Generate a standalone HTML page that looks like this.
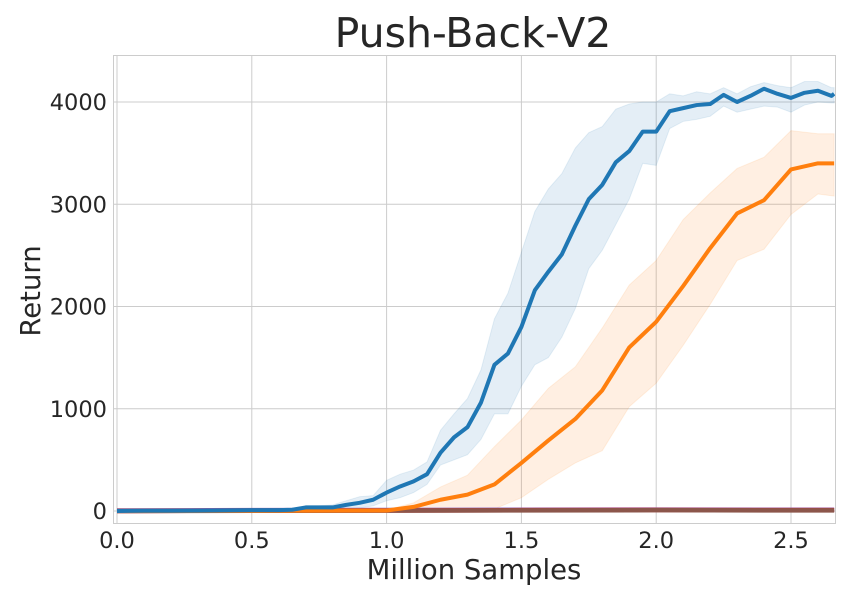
<!DOCTYPE html>
<html><head><meta charset="utf-8"><style>
html,body{margin:0;padding:0;background:#fff;}
svg{display:block;font-family:"DejaVu Sans","Liberation Sans",sans-serif;}
</style></head><body>
<svg id="chart" width="850" height="600" viewBox="0 0 850 600" xmlns="http://www.w3.org/2000/svg">
<rect width="850" height="600" fill="#fff"/>
<text x="473" y="47" font-size="41" fill="#262626" text-anchor="middle">Push-Back-V2</text>
<g id="grid"></g>
<g id="bands"></g>
<g id="lines"></g>
<rect x="113.5" y="55.5" width="722" height="468" fill="none" stroke="#ccc" stroke-width="1"/>
<g id="ticks"></g>
<text x="474" y="579" font-size="27.5" fill="#262626" text-anchor="middle">Million Samples</text>
<text transform="translate(40,291) rotate(-90)" font-size="27.5" fill="#262626" text-anchor="middle">Return</text>
</svg>
<script>
const xTicks = [0.0, 0.5, 1.0, 1.5, 2.0, 2.5];
const xTickLabels = ["0.0", "0.5", "1.0", "1.5", "2.0", "2.5"];
const yTicks = [0, 1000, 2000, 3000, 4000];
const yTickLabels = ["0", "1000", "2000", "3000", "4000"];

const blueX = [0,0.1,0.2,0.3,0.4,0.5,0.6,0.65,0.7,0.75,0.8,0.85,0.9,0.95,1.0,1.05,1.1,1.15,1.2,1.25,1.3,1.35,1.4,1.45,1.5,1.55,1.6,1.65,1.7,1.75,1.8,1.85,1.9,1.95,2.0,2.05,2.1,2.15,2.2,2.25,2.3,2.35,2.4,2.45,2.5,2.55,2.6,2.65,2.66];
const blueMean = [0,2,3,4,6,8,9,12,35,35,35,60,80,110,180,240,290,360,570,720,820,1060,1430,1540,1800,2160,2340,2510,2790,3050,3190,3410,3520,3710,3710,3910,3940,3970,3980,4070,4000,4060,4130,4080,4040,4090,4110,4060,4080];
const blueUpper = [0,4,6,8,10,12,14,20,45,50,60,100,140,150,300,360,400,480,790,950,1100,1380,1880,2130,2530,2930,3150,3300,3550,3700,3760,3930,3980,4000,4000,4080,4060,4100,4080,4140,4080,4150,4190,4160,4140,4200,4200,4140,4140];
const blueLower = [0,0,1,2,3,4,5,6,20,20,20,20,30,50,100,130,180,260,450,500,550,700,950,950,1220,1430,1500,1700,1980,2370,2550,2800,3050,3400,3380,3740,3810,3830,3860,3960,3900,3930,3960,3950,3900,3970,4000,3990,3990];

const orangeX = [0,0.5,1.0,1.1,1.2,1.3,1.4,1.5,1.6,1.7,1.8,1.9,2.0,2.1,2.2,2.3,2.4,2.5,2.6,2.66];
const orangeMean = [0,2,5,40,110,160,260,470,690,900,1180,1600,1850,2200,2570,2910,3040,3340,3400,3400];
const orangeUpper = [0,4,10,80,235,350,630,890,1200,1410,1790,2210,2450,2850,3110,3350,3460,3720,3690,3690];
const orangeLower = [0,0,0,0,0,10,20,130,310,470,590,1020,1250,1620,2020,2450,2560,2900,3100,3080];

const flatX = [0,0.5,1.0,1.5,2.0,2.5,2.66];
const redVals = [0,5,5,8,10,8,8];
const purpleVals = [5,8,10,12,14,12,12];
const brownVals = [0,3,4,6,8,6,6];

const X0=117, XS=269.6, Y0=511, YS=0.10225;
const sx = v => X0 + v*XS;
const sy = v => Y0 - v*YS;
const NS="http://www.w3.org/2000/svg";
function mk(tag, attrs, parent){const e=document.createElementNS(NS,tag);for(const k in attrs)e.setAttribute(k,attrs[k]);parent.appendChild(e);return e;}

const grid=document.getElementById('grid'), ticks=document.getElementById('ticks');
xTicks.forEach((t,i)=>{
  const l=mk('line',{x1:sx(t),x2:sx(t),y1:55,y2:523,stroke:'#ccc','stroke-width':1},grid);
  
  
  const tx=mk('text',{x:sx(t),y:548,'font-size':22.5,fill:'#262626','text-anchor':'middle'},ticks);
  tx.textContent=xTickLabels[i];
  
  
});
yTicks.forEach((t,i)=>{
  const l=mk('line',{x1:113,x2:835,y1:sy(t),y2:sy(t),stroke:'#ccc','stroke-width':1},grid);
  
  
  const tx=mk('text',{x:107,y:sy(t)+8,'font-size':22.5,fill:'#262626','text-anchor':'end'},ticks);
  tx.textContent=yTickLabels[i];
  
  
});

function band(xs, lo, hi, color, name){
  let d='M'+xs.map((x,i)=>sx(x)+','+sy(hi[i])).join('L');
  for(let i=xs.length-1;i>=0;i--) d+='L'+sx(xs[i])+','+sy(lo[i]);
  d+='Z';
  const p=mk('path',{d:d,fill:color,'fill-opacity':0.12,stroke:color,'stroke-opacity':0.1},document.getElementById('bands'));
  
  
}
function line(xs, ys, color, name, w){
  const p=mk('polyline',{points:xs.map((x,i)=>sx(x)+','+sy(ys[i])).join(' '),fill:'none',stroke:color,'stroke-width':w||4,'stroke-linejoin':'round'},document.getElementById('lines'));
  
  
}
band(blueX, blueLower, blueUpper, '#1f77b4', 'blue-band');
band(orangeX, orangeLower, orangeUpper, '#ff7f0e', 'orange-band');
line(flatX, purpleVals, '#9467bd', 'purple-line', 4.5);
line(flatX, redVals, '#d62728', 'red-line', 4.5);
line(flatX, brownVals, '#8c564b', 'brown-line', 4.5);
line(orangeX, orangeMean, '#ff7f0e', 'orange-line');
line(blueX, blueMean, '#1f77b4', 'blue-line');
</script>
</body></html>
